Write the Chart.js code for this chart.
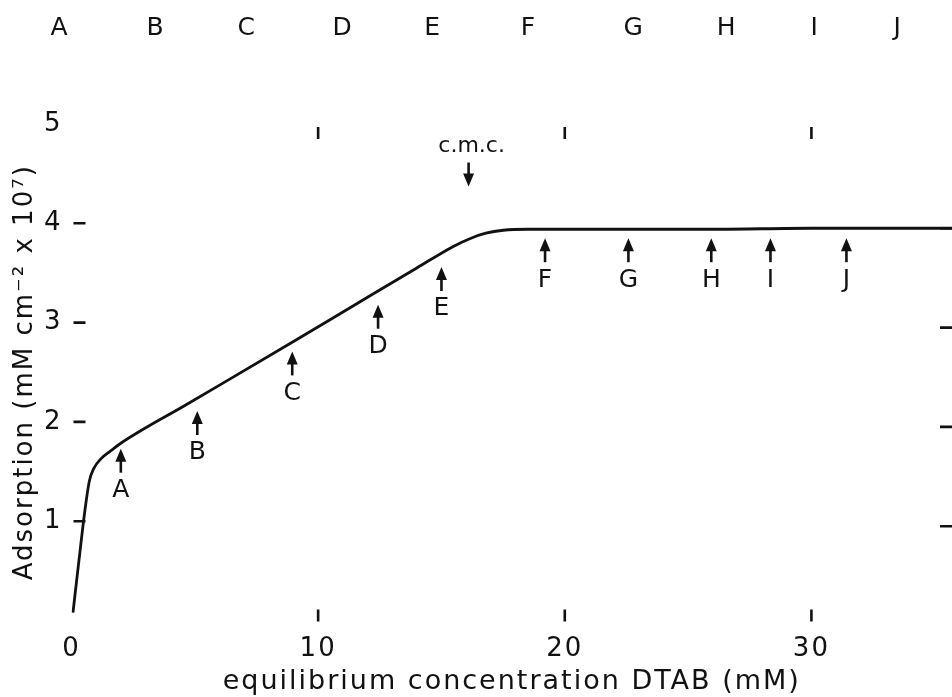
<!DOCTYPE html>
<html>
<head>
<meta charset="utf-8">
<script src="https://cdn.jsdelivr.net/npm/chart.js@4.4.1/dist/chart.umd.min.js"></script>
<style>
html,body{margin:0;padding:0;background:#ffffff;}
#wrap{width:952px;height:697px;position:relative;}
</style>
</head>
<body>
<div id="wrap"><canvas id="c" width="952" height="697"></canvas></div>
<script>
// ---- data ----
const concentration = [0.06, 0.3, 0.55, 0.72, 0.9, 1.2, 1.6, 1.97, 4.7, 9.0, 11.7, 14.0, 15.5, 16.2, 16.8, 17.5, 18.5, 22.0, 26.0, 30.0, 33.0, 35.7];
const adsorption    = [0.08, 0.6, 1.12, 1.40, 1.53, 1.63, 1.71, 1.78, 2.18, 2.81, 3.21, 3.55, 3.77, 3.85, 3.90, 3.93, 3.94, 3.94, 3.94, 3.95, 3.95, 3.95];

const xTickValues = [0, 10, 20, 30];
const yTickValues = [1, 2, 3, 4, 5];

const sampleLabels = ['A', 'B', 'C', 'D', 'E', 'F', 'G', 'H', 'I', 'J'];
const sampleConc   = [2.0, 5.1, 8.95, 12.43, 15.0, 19.2, 22.58, 25.94, 28.34, 31.42];
const sampleTip    = [1.73, 2.11, 2.71, 3.18, 3.56, 3.85, 3.85, 3.85, 3.85, 3.85];

const panelLabels = ['A', 'B', 'C', 'D', 'E', 'F', 'G', 'H', 'I', 'J'];
const panelConc   = [-0.5, 3.39, 7.08, 10.97, 14.62, 18.51, 22.77, 26.54, 30.11, 33.48];

const cmcLabel = 'c.m.c.';
const cmcConc = 16.1;
const cmcTip = 4.37;

const xTitle = 'equilibrium concentration DTAB (mM)';
const yTitle = 'Adsorption (mM cm\u207B\u00B2 x 10\u2077)';

// ---- styling ----
const INK = '#111111';
const FONT = "'DejaVu Sans', sans-serif";

const spacingPlugin = {
  id: 'spacing',
  beforeUpdate(chart) { chart.ctx.letterSpacing = '2px'; },
  beforeDraw(chart) { chart.ctx.letterSpacing = '2px'; }
};

const decorPlugin = {
  id: 'decor',
  afterDatasetsDraw(chart) {
    const ctx = chart.ctx;
    const xs = chart.scales.x, ys = chart.scales.y;
    const area = chart.chartArea;
    ctx.save();
    ctx.strokeStyle = INK;
    ctx.fillStyle = INK;
    ctx.lineCap = 'butt';

    // inward tick marks (frame itself not drawn)
    const TL = 12;
    ctx.lineWidth = 2.6;
    ctx.beginPath();
    yTickValues.forEach(v => {
      if (v >= 5) return;
      const py = ys.getPixelForValue(v);
      ctx.moveTo(area.left + 2, py); ctx.lineTo(area.left + 2 + TL, py);
      ctx.moveTo(area.right, py + 5); ctx.lineTo(area.right - TL, py + 5);
    });
    xTickValues.forEach(v => {
      if (v <= 0) return;
      const px = xs.getPixelForValue(v);
      ctx.moveTo(px, area.top + 3); ctx.lineTo(px, area.top + 3 + TL);
      ctx.moveTo(px, area.bottom + 1); ctx.lineTo(px, area.bottom + 1 - TL);
    });
    ctx.stroke();

    // sample arrows with letters
    ctx.letterSpacing = '0px';
    ctx.font = '25px ' + FONT;
    ctx.textAlign = 'center';
    ctx.textBaseline = 'middle';
    sampleConc.forEach((c, i) => {
      const px = xs.getPixelForValue(c);
      const tip = ys.getPixelForValue(sampleTip[i]);
      drawArrow(ctx, px, tip, 1);
      ctx.fillText(sampleLabels[i], px, tip + 42);
    });

    // c.m.c. marker
    const cx = xs.getPixelForValue(cmcConc);
    const ct = ys.getPixelForValue(cmcTip);
    drawArrow(ctx, cx, ct, -1);
    ctx.font = '22px ' + FONT;
    ctx.fillText(cmcLabel, cx + 3, ct - 40);

    // top row of panel letters
    ctx.font = '25px ' + FONT;
    panelConc.forEach((c, i) => {
      ctx.fillText(panelLabels[i], xs.getPixelForValue(c), 28);
    });
    ctx.restore();
  }
};

function drawArrow(ctx, x, tip, dir) {
  // dir = 1: pointing up (tip on top); dir = -1: pointing down
  const headL = 13, headW = 5.5, total = 24;
  ctx.beginPath();
  ctx.moveTo(x, tip);
  ctx.lineTo(x - headW, tip + dir * headL);
  ctx.lineTo(x + headW, tip + dir * headL);
  ctx.closePath();
  ctx.fill();
  ctx.lineWidth = 2.6;
  ctx.beginPath();
  ctx.moveTo(x, tip + dir * (headL - 1));
  ctx.lineTo(x, tip + dir * total);
  ctx.stroke();
}

const points = concentration.map((x, i) => ({ x: x, y: adsorption[i] }));

new Chart(document.getElementById('c'), {
  type: 'line',
  data: {
    datasets: [{
      data: points,
      borderColor: INK,
      borderWidth: 2.8,
      pointRadius: 0,
      fill: false,
      cubicInterpolationMode: 'monotone'
    }]
  },
  options: {
    responsive: false,
    animation: false,
    devicePixelRatio: 1,
    layout: { padding: { top: 124, right: 0, left: 0, bottom: 0 } },
    plugins: { legend: { display: false }, tooltip: { enabled: false } },
    scales: {
      x: {
        type: 'linear',
        min: 0,
        max: 35.7,
        border: { display: false },
        grid: { display: false, drawTicks: false },
        afterBuildTicks: s => { s.ticks = xTickValues.map(v => ({ value: v })); },
        afterFit: s => { s.height = 76.5; },
        ticks: { color: INK, font: { family: FONT, size: 26 }, padding: 13, maxRotation: 0, autoSkip: false },
        title: { display: true, text: xTitle, color: INK, font: { family: FONT, size: 27, lineHeight: 1.0 }, padding: { top: 0, bottom: 2 } }
      },
      y: {
        type: 'linear',
        min: 0,
        max: 5,
        border: { display: false },
        grid: { display: false, drawTicks: false },
        afterBuildTicks: s => { s.ticks = yTickValues.map(v => ({ value: v })); },
        afterFit: s => { s.width = 71.5; },
        ticks: { color: INK, font: { family: FONT, size: 26 }, padding: 9, autoSkip: false },
        title: { display: true, text: yTitle, color: INK, font: { family: FONT, size: 26, lineHeight: 1.2 }, padding: { top: 10, bottom: 0 } }
      }
    }
  },
  plugins: [spacingPlugin, decorPlugin]
});
</script>
</body>
</html>
